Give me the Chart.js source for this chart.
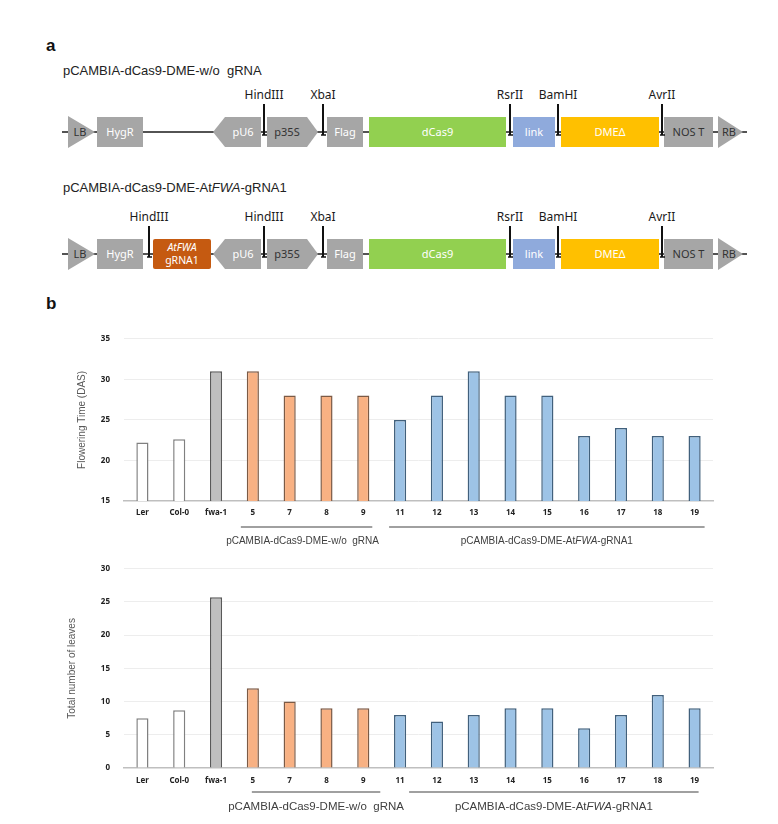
<!DOCTYPE html>
<html>
<head>
<meta charset="utf-8">
<script src="https://cdn.jsdelivr.net/npm/chart.js@4"></script>
<style>
  html, body { margin: 0; padding: 0; background: #fff; }
  #page { position: relative; width: 778px; height: 824px; overflow: hidden; font-family: 'Liberation Sans', Arial, sans-serif; }
  #map { position: absolute; left: 0; top: 0; }
  canvas { position: absolute; left: 0; }
</style>
</head>
<body>
<div id="page">
  <svg id="map" width="778" height="320"></svg>
  <canvas id="chartFlowering" width="778" height="230" style="top:320px"></canvas>
  <canvas id="chartLeaves" width="778" height="274" style="top:550px"></canvas>
</div>
<script>
// Données
var categories     = ['Ler', 'Col-0', 'fwa-1', '5', '7', '8', '9', '11', '12', '13', '14', '15', '16', '17', '18', '19'];
var lineGroup      = ['ctrl', 'ctrl', 'fwa', 'empty', 'empty', 'empty', 'empty', 'grna', 'grna', 'grna', 'grna', 'grna', 'grna', 'grna', 'grna', 'grna'];
var floweringTime  = [22.2, 22.6, 31, 31, 28, 28, 28, 25, 28, 31, 28, 28, 23, 24, 23, 23];
var leafNumber     = [7.5, 8.7, 25.7, 12, 10, 9, 9, 8, 7, 8, 9, 9, 6, 8, 11, 9];
var floweringTicks = [15, 20, 25, 30, 35];
var leafTicks      = [0, 5, 10, 15, 20, 25, 30];
var underGroups = [
    { first: '5',  last: '9',  text: [['pCAMBIA-dCas9-DME-w/o  gRNA', false]] },
    { first: '11', last: '19', text: [['pCAMBIA-dCas9-DME-At', false], ['FWA', true], ['-gRNA1', false]] }
];

/* ---------- panneau a : cartes des constructions (SVG) ---------- */
(function () {
    'use strict';
    var NS = 'http://www.w3.org/2000/svg';
    var svg = document.getElementById('map');
    var GRAY = '#a6a6a6';

    function el(tag, attrs, text) {
        var e = document.createElementNS(NS, tag);
        for (var k in attrs) { e.setAttribute(k, attrs[k]); }
        if (text != null) { e.textContent = text; }
        svg.appendChild(e);
        return e;
    }
    function label(x, y, txt, color, size) {
        return el('text', { x: x, y: y, 'text-anchor': 'middle', 'font-family': 'Noto Sans, sans-serif',
            'font-size': size || 11, fill: color }, txt);
    }

    var parts = [
        { t: 'tri',    x1: 68,  x2: 95,  label: 'LB', dark: true, tx: 80 },
        { t: 'box',    x1: 97,  x2: 143, label: 'HygR' },
        { t: 'arrowL', x1: 213, x2: 261, label: 'pU6' },
        { t: 'arrowR', x1: 267, x2: 318, label: 'p35S', dark: true },
        { t: 'box',    x1: 327, x2: 363, label: 'Flag' },
        { t: 'box',    x1: 369, x2: 506, label: 'dCas9', fill: '#92d050' },
        { t: 'box',    x1: 513, x2: 555, label: 'link', fill: '#8faadc' },
        { t: 'box',    x1: 561, x2: 659, label: 'DME\u0394', fill: '#ffc000' },
        { t: 'box',    x1: 664, x2: 713, label: 'NOS T', dark: true },
        { t: 'tri',    x1: 718, x2: 743, label: 'RB', dark: true, tx: 729 }
    ];
    var sites = [[264, 'HindIII'], [323, 'XbaI'], [510, 'RsrII'], [558, 'BamHI'], [662, 'AvrII']];

    function construct(top, withGuide) {
        var h = 30, cy = top + h / 2, bot = top + h;
        el('line', { x1: 62, y1: cy, x2: 747, y2: cy, stroke: '#1a1a1a', 'stroke-width': 1.6 });

        var list = parts.slice();
        var siteList = sites.slice();
        if (withGuide) {
            list.push({ t: 'guide', x1: 153, x2: 211 });
            siteList.push([149, 'HindIII']);
        }
        list.forEach(function (p) {
            var fill = p.fill || GRAY;
            var tc = p.dark ? '#333' : '#fff';
            var tx = (p.x1 + p.x2) / 2;
            if (p.t === 'box') {
                el('rect', { x: p.x1, y: top, width: p.x2 - p.x1, height: h, fill: fill });
            } else if (p.t === 'arrowL') {
                el('polygon', { points: [p.x1, cy, p.x1 + 12, top, p.x2, top, p.x2, bot, p.x1 + 12, bot].join(' '), fill: fill });
                tx = (p.x1 + 12 + p.x2) / 2;
            } else if (p.t === 'arrowR') {
                el('polygon', { points: [p.x1, top, p.x2 - 11, top, p.x2, cy, p.x2 - 11, bot, p.x1, bot].join(' '), fill: fill });
                tx = (p.x1 + p.x2 - 11) / 2;
            } else if (p.t === 'tri') {
                el('polygon', { points: [p.x1, top - 1, p.x2, cy, p.x1, bot + 1].join(' '), fill: fill });
                tx = p.tx;
            } else if (p.t === 'guide') {
                el('rect', { x: p.x1, y: top, width: p.x2 - p.x1, height: h, rx: 2, fill: '#c55a11' });
                var g = label(tx, top + 12, 'AtFWA', '#fff', 10.5);
                g.setAttribute('font-style', 'italic');
                label(tx, top + 25, 'gRNA1', '#fff', 10.5);
                return;
            }
            label(tx, cy + 4, p.label, tc, 11);
        });

        siteList.forEach(function (s) {
            var ly = top - 18;
            label(s[0], ly, s[1], '#1a1a1a', 12);
            el('line', { x1: s[0], y1: ly + 5, x2: s[0], y2: cy + 3, stroke: '#111', 'stroke-width': 2 });
            el('line', { x1: s[0] - 2, y1: cy + 3, x2: s[0] + 3, y2: cy + 3, stroke: '#111', 'stroke-width': 1.5 });
        });
    }

    el('text', { x: 46, y: 51, 'font-family': 'Liberation Sans, Arial', 'font-size': 17, 'font-weight': 'bold', fill: '#111' }, 'a');
    el('text', { x: 46, y: 309, 'font-family': 'Liberation Sans, Arial', 'font-size': 17, 'font-weight': 'bold', fill: '#111' }, 'b');

    el('text', { x: 63, y: 75, 'font-family': 'Liberation Sans, Arial', 'font-size': 13, fill: '#222' }, 'pCAMBIA-dCas9-DME-w/o\u00a0 gRNA');
    var t2 = el('text', { x: 63, y: 192, 'font-family': 'Liberation Sans, Arial', 'font-size': 13, fill: '#222' });
    t2.innerHTML = 'pCAMBIA-dCas9-DME-At<tspan font-style="italic">FWA</tspan>-gRNA1';

    construct(117, false);
    construct(239, true);
})();

/* ---------- panneau b : histogrammes (Chart.js) ---------- */
(function () {
    'use strict';
    if (typeof Chart === 'undefined') { return; }

    var styles = {
        ctrl:  { fill: '#ffffff', border: '#808080' },
        fwa:   { fill: '#bfbfbf', border: '#595959' },
        empty: { fill: '#f8b183', border: '#7b5a45' },
        grna:  { fill: '#9dc3e6', border: '#41607c' }
    };
    var fills   = lineGroup.map(function (g) { return styles[g].fill; });
    var borders = lineGroup.map(function (g) { return styles[g].border; });

    // Traits de regroupement + libellés sous l'axe X
    var groupPlugin = {
        id: 'groupLines',
        afterDraw: function (chart, args, opts) {
            var ctx = chart.ctx, x = chart.scales.x, area = chart.chartArea;
            ctx.save();
            underGroups.forEach(function (g, i) {
                var off = opts.offsets[i];
                var x1 = x.getPixelForValue(categories.indexOf(g.first)) + off[0];
                var x2 = x.getPixelForValue(categories.indexOf(g.last)) + off[1];
                var ly = area.bottom + opts.lineY;
                ctx.strokeStyle = '#808080';
                ctx.lineWidth = 1.5;
                ctx.beginPath(); ctx.moveTo(x1, ly); ctx.lineTo(x2, ly); ctx.stroke();

                var fonts = g.text.map(function (seg) {
                    return (seg[1] ? 'italic ' : '') + opts.fontSize + 'px "Liberation Sans", Arial';
                });
                var total = 0;
                g.text.forEach(function (seg, j) { ctx.font = fonts[j]; total += ctx.measureText(seg[0]).width; });
                var cx = (x1 + x2) / 2 + (opts.textShift[i] || 0);
                var tx = cx - total / 2;
                ctx.fillStyle = '#404040';
                ctx.textBaseline = 'middle';
                ctx.textAlign = 'left';
                g.text.forEach(function (seg, j) {
                    ctx.font = fonts[j];
                    ctx.fillText(seg[0], tx, area.bottom + opts.textY);
                    tx += ctx.measureText(seg[0]).width;
                });
            });
            ctx.restore();
        }
    };

    function build(canvasId, values, ticks, title, cfg) {
        var min = ticks[0], max = ticks[ticks.length - 1];
        return new Chart(document.getElementById(canvasId), {
            type: 'bar',
            data: {
                labels: categories,
                datasets: [{
                    data: values,
                    backgroundColor: fills,
                    borderColor: borders,
                    borderWidth: 1.5,
                    barPercentage: 0.33,
                    categoryPercentage: 1
                }]
            },
            plugins: [groupPlugin],
            options: {
                responsive: false,
                animation: false,
                devicePixelRatio: 1,
                layout: { padding: cfg.padding },
                plugins: {
                    legend: { display: false },
                    tooltip: { enabled: false },
                    groupLines: cfg.groups
                },
                scales: {
                    x: {
                        grid: { display: false, drawTicks: false },
                        border: { color: '#bfbfbf', width: 1.5 },
                        ticks: { color: '#222', padding: cfg.xPad, maxRotation: 0,
                                 font: { family: 'Noto Sans', size: 8, weight: 'bold' } },
                        afterFit: function (s) { s.height = 20; }
                    },
                    y: {
                        min: min, max: max,
                        border: { display: false },
                        grid: {
                            drawTicks: false,
                            color: function (c) { return c.tick && c.tick.value === min ? 'rgba(0,0,0,0)' : '#ededed'; }
                        },
                        ticks: { color: '#222', padding: 14, font: { family: 'Noto Sans', size: 8, weight: 'bold' } },
                        afterBuildTicks: function (s) { s.ticks = ticks.map(function (v) { return { value: v }; }); },
                        title: { display: true, text: title, color: '#595959', padding: 0,
                                 font: { family: 'Liberation Sans', size: 10 } },
                        afterFit: function (s) { s.width = cfg.yWidth; }
                    }
                }
            }
        });
    }

    build('chartFlowering', floweringTime, floweringTicks, 'Flowering Time (DAS)', {
        padding: { left: 76, right: 65, top: 13, bottom: 29 },
        yWidth: 48,
        xPad: 7,
        groups: { lineY: 26, textY: 40, fontSize: 10, offsets: [[-12, 9], [-11, 10]], textShift: [-4, 0] }
    });

    build('chartLeaves', leafNumber, leafTicks, 'Total number of leaves', {
        padding: { left: 66, right: 65, top: 14, bottom: 36 },
        yWidth: 58,
        xPad: 8,
        groups: { lineY: 24, textY: 39, fontSize: 11.5, offsets: [[-1, 17], [9, 4]], textShift: [0, 0] }
    });
})();
</script>
</body>
</html>
